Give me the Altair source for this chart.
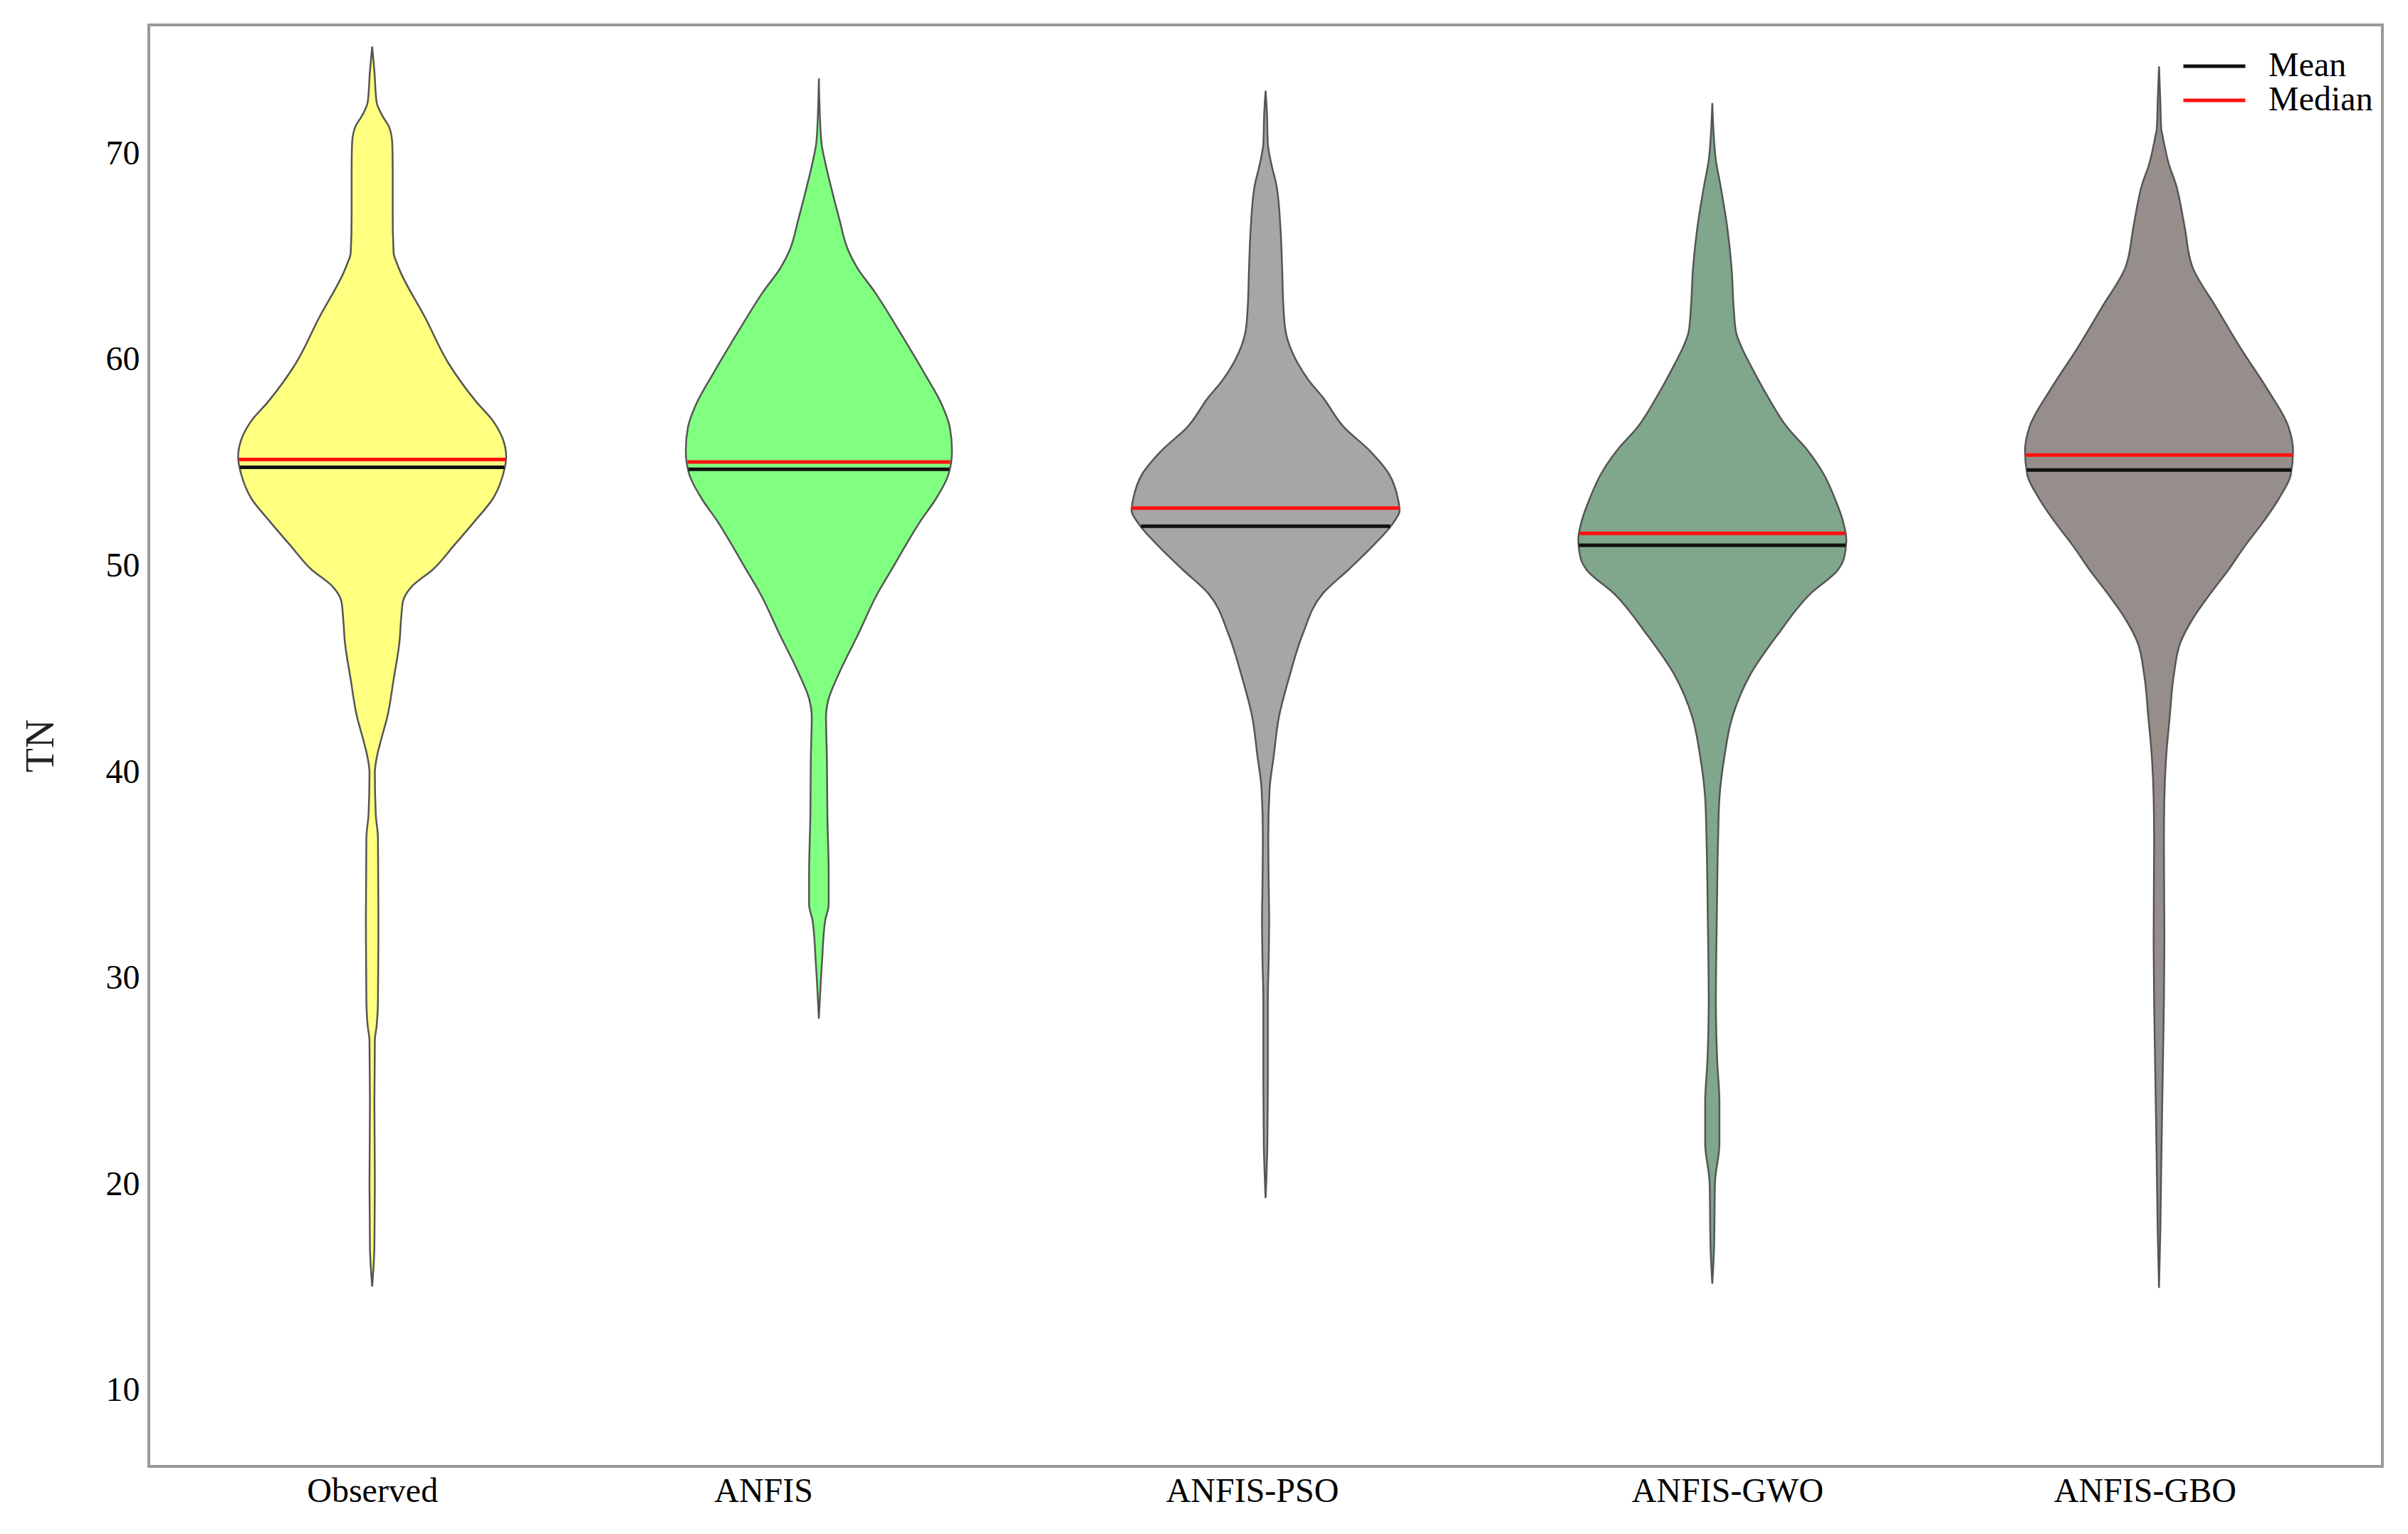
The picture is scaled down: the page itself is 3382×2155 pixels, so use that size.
import json
import altair as alt
import numpy as np
import pandas as pd

# ---------------- data ----------------
categories = ["Observed", "ANFIS", "ANFIS-PSO", "ANFIS-GWO", "ANFIS-GBO"]
fill_colors = ["#FFFF80", "#80FF80", "#A6A6A6", "#80A68C", "#968E8B"]

# violin profiles: TN value and half-width (in units of category spacing)
obs_y = [75.2, 74.0, 72.5, 71.8, 71.3, 70.5, 69.3, 67.0, 65.2, 64.6, 62.0, 59.8, 58.0, 57.0,
         56.2, 55.3, 54.44, 53.3, 52.14, 51.0, 49.84, 49.0, 48.3, 47.5, 46.3, 44.5, 42.8,
         41.5, 40.8, 40.0, 38.0, 36.8, 33.0, 29.0, 27.7, 27.0, 24.0, 20.0, 17.0, 15.06]
obs_w = [0.0, 0.005, 0.010, 0.024, 0.038, 0.045, 0.046, 0.046, 0.048, 0.057, 0.120, 0.172, 0.232,
         0.272, 0.292, 0.300, 0.293, 0.271, 0.228, 0.183, 0.136, 0.088, 0.069, 0.065, 0.061,
         0.048, 0.035, 0.019, 0.011, 0.006, 0.008, 0.013, 0.014, 0.013, 0.010, 0.006, 0.005,
         0.006, 0.005, 0.0]

anfis_y = [73.65, 72.0, 70.5, 69.5, 68.5, 66.9, 65.3, 64.5, 63.3, 61.4, 59.4, 57.8, 56.75, 55.6,
           54.44, 53.3, 52.14, 51.0, 49.84, 48.7, 46.7, 44.7, 43.5, 42.7, 40.7, 38.0, 35.0,
           33.6, 32.8, 30.8, 28.06]
anfis_w = [0.0, 0.002, 0.006, 0.015, 0.026, 0.045, 0.066, 0.085, 0.125, 0.180, 0.235, 0.276,
           0.293, 0.298, 0.290, 0.263, 0.226, 0.194, 0.163, 0.132, 0.088, 0.043, 0.021, 0.016,
           0.018, 0.019, 0.022, 0.022, 0.014, 0.007, 0.0]

pso_y = [73.05, 72.0, 70.5, 69.5, 68.5, 66.5, 64.5, 62.55, 61.36, 60.0, 59.0, 58.19, 56.75,
         55.6, 54.44, 53.3, 52.7, 52.14, 51.0, 49.84, 48.67, 46.7, 44.7, 42.7, 40.75, 39.2,
         36.8, 34.5, 32.8, 31.0, 28.9, 24.9, 22.0, 19.35]
pso_w = [0.0, 0.003, 0.005, 0.013, 0.024, 0.033, 0.037, 0.040, 0.045, 0.068, 0.097, 0.128,
         0.175, 0.233, 0.277, 0.296, 0.300, 0.287, 0.241, 0.186, 0.128, 0.083, 0.054, 0.030,
         0.018, 0.009, 0.006, 0.007, 0.008, 0.007, 0.005, 0.005, 0.004, 0.0]

gwo_y = [72.46, 71.0, 69.68, 68.5, 66.5, 64.5, 62.5, 61.36, 60.5, 59.77, 58.19, 56.75, 55.6,
         54.44, 53.3, 52.14, 51.3, 50.4, 49.84, 48.67, 46.7, 44.7, 42.7, 40.75, 38.77, 36.8,
         32.8, 28.9, 26.0, 24.0, 22.0, 20.1, 17.0, 15.2]
gwo_w = [0.0, 0.003, 0.008, 0.018, 0.033, 0.043, 0.048, 0.053, 0.068, 0.085, 0.125, 0.167,
         0.214, 0.250, 0.274, 0.293, 0.300, 0.295, 0.282, 0.220, 0.147, 0.084, 0.045, 0.027,
         0.016, 0.013, 0.010, 0.008, 0.011, 0.016, 0.016, 0.006, 0.004, 0.0]

gbo_y = [74.24, 72.5, 71.2, 70.87, 69.5, 68.5, 66.5, 64.5, 62.55, 60.56, 58.6, 56.75, 55.6,
         54.44, 53.3, 52.14, 51.0, 49.84, 48.67, 47.5, 46.3, 44.7, 42.7, 40.75, 38.77, 36.8,
         32.0, 28.9, 24.9, 20.9, 17.8, 15.0]
gbo_w = [0.0, 0.003, 0.005, 0.008, 0.022, 0.038, 0.057, 0.075, 0.128, 0.183, 0.242, 0.290,
         0.300, 0.295, 0.269, 0.233, 0.193, 0.156, 0.115, 0.077, 0.048, 0.033, 0.024, 0.016,
         0.012, 0.011, 0.012, 0.011, 0.008, 0.005, 0.003, 0.0]

means = [54.79, 54.70, 51.94, 51.01, 54.66]
medians = [55.17, 55.05, 52.82, 51.59, 55.39]

y_ticks = [10, 20, 30, 40, 50, 60, 70]
label_shift = [0, -78, -19, 21, -20]   # horizontal offset of the category labels (px)

# ---------------- build tables ----------------
profiles_y = [obs_y, anfis_y, pso_y, gwo_y, gbo_y]
profiles_w = [obs_w, anfis_w, pso_w, gwo_w, gbo_w]

rows = []
stat_rows = []
for i, cat in enumerate(categories):
    pos = i + 1
    for yv, wv in zip(profiles_y[i], profiles_w[i]):
        rows.append({"cat": cat, "y": yv, "lo": pos - wv, "hi": pos + wv})
    ya = np.array(profiles_y[i][::-1])
    wa = np.array(profiles_w[i][::-1])
    for stat, val in (("Mean", means[i]), ("Median", medians[i])):
        hw = float(np.interp(val, ya, wa))
        stat_rows.append({"cat": cat, "stat": stat, "val": val, "lo": pos - hw, "hi": pos + hw})

violins = pd.DataFrame(rows)
stats = pd.DataFrame(stat_rows)

FONT = "Liberation Serif"

label_expr = json.dumps(categories) + "[datum.value - 1]"
offset_cond = {
    "condition": [{"test": f"datum.value == {i + 1}", "value": s}
                  for i, s in enumerate(label_shift) if s != 0],
    "value": 0,
}

x_scale = alt.Scale(domain=[0.5, 5.5], nice=False, zero=False)
y_scale = alt.Scale(domain=[6.34, 76.25], nice=False, zero=False)

x_axis = alt.Axis(values=[1, 2, 3, 4, 5], labelExpr=label_expr, grid=False, ticks=False,
                  domain=False, title=None, labelFont=FONT, labelFontSize=48, labelLimit=0,
                  labelColor="black", labelPadding=11, labelOffset=offset_cond)
y_axis = alt.Axis(values=y_ticks, grid=False, ticks=False, domain=False, title="TN",
                  titleFont=FONT, titleFontSize=56, titleFontWeight="normal",
                  titleColor="#222222", titlePadding=62, labelFont=FONT, labelFontSize=48,
                  labelColor="black", labelPadding=13)

areas = []
for i, cat in enumerate(categories):
    if i == 0:
        yenc = alt.Y("y:Q", scale=y_scale, axis=y_axis)
        xenc = alt.X("lo:Q", scale=x_scale, axis=x_axis)
    else:
        yenc = alt.Y("y:Q", scale=y_scale)
        xenc = alt.X("lo:Q", scale=x_scale)
    areas.append(
        alt.Chart(violins[violins["cat"] == cat]).mark_area(
            orient="horizontal", stroke="#555555", strokeWidth=2.5, opacity=1,
            fill=fill_colors[i], interpolate="monotone"
        ).encode(y=yenc, x=xenc, x2="hi:Q")
    )

rules = alt.Chart(stats).mark_rule(strokeWidth=5).encode(
    y=alt.Y("val:Q", scale=y_scale),
    x=alt.X("lo:Q", scale=x_scale),
    x2="hi:Q",
    color=alt.Color(
        "stat:N",
        scale=alt.Scale(domain=["Mean", "Median"], range=["#111111", "#FF1010"]),
        legend=alt.Legend(title=None, orient="none", legendX=2855, legendY=37,
                          symbolType="stroke", symbolSize=7569, symbolStrokeWidth=5,
                          labelFont=FONT, labelFontSize=48, labelColor="black",
                          labelOffset=30, clipHeight=42, rowPadding=0, padding=0),
    ),
)

chart = (
    alt.layer(*areas, rules)
    .properties(width=3137, height=2025,
                padding={"left": 21, "top": 27, "right": 20, "bottom": 5})
    .configure(background="white")
    .configure_view(stroke="#999999", strokeWidth=4)
)

chart.save("out.html", embed_options={"renderer": "svg", "actions": False})
